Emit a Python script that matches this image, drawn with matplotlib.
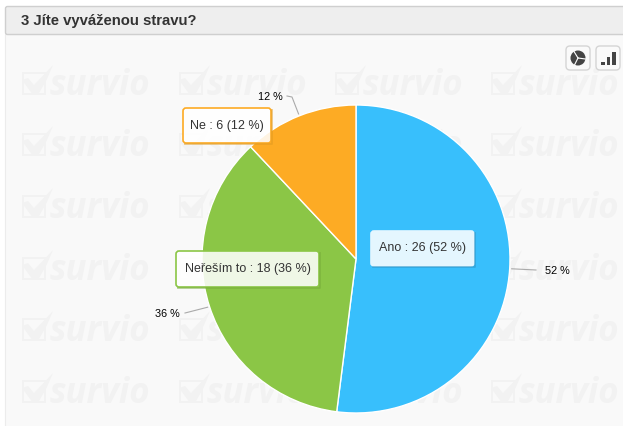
import numpy as np
import matplotlib
matplotlib.use('Agg')
import matplotlib.pyplot as plt
from matplotlib.patches import Rectangle, FancyBboxPatch, Circle, Polygon

W, H = 623, 426

# Data
title = '3 Jíte vyváženou stravu?'
categories = ['Ano', 'Neřeším to', 'Ne']
counts = [26, 18, 6]
percents = [52, 36, 12]
colors = ['#38bffc', '#8bc646', '#fdab24']
edges = ['#e6f6fe', '#8bc646', '#fdab24']
shadows = ['#2f93c4', '#76ab38', '#e09a20']

plt.rcParams['font.family'] = ['Liberation Sans', 'DejaVu Sans']

fig = plt.figure(figsize=(W / 100, H / 100), dpi=100, facecolor='white')

# fond en coordonnées pixel
bg = fig.add_axes([0, 0, 1, 1], zorder=0)
bg.set_xlim(0, W)
bg.set_ylim(H, 0)
bg.axis('off')

bg.add_patch(Rectangle((5, 34), W, H, fc='#f9f9f9', ec='#ececec', lw=0.8))
bg.add_patch(FancyBboxPatch((5.5, 6.5), W, 28, boxstyle='round,pad=0,rounding_size=2',
                            fc='#eeeeee', ec='#cfcfcf', lw=1))
bg.text(21, 21, title, fontsize=10.7, fontweight='bold', color='#333333', va='center')


# Filigrane
def watermark(x, y):
    mark = '#f2f2f2'
    bg.add_patch(Rectangle((x + 2, y + 8), 22, 21, fc='none', ec=mark, lw=1.4))
    bg.add_patch(Polygon([(x + 1, y + 15), (x + 7, y + 13), (x + 13, y + 20), (x + 32, y),
                          (x + 26, y + 14), (x + 17, y + 30), (x + 12, y + 30)],
                         fc=mark, ec='none'))
    bg.text(x + 29, y + 30, 'survio', fontsize=25, fontweight='bold', style='italic',
            family='Open Sans', color=mark, va='baseline')


for wy in [65, 126, 188, 250, 311, 373]:
    for wx in [21, 178, 334, 490]:
        watermark(wx, wy)

# Camembert
cx, cy, r = 356, 259, 154
ax = fig.add_axes([(cx - r) / W, 1 - (cy + r) / H, 2 * r / W, 2 * r / H], zorder=1)
wedges, _ = ax.pie(counts, colors=colors, startangle=90, counterclock=False,
                   radius=1, wedgeprops={'edgecolor': 'white', 'linewidth': 1})
ax.set_xlim(-1, 1)
ax.set_ylim(-1, 1)

# Calque du dessus pour les étiquettes
top = fig.add_axes([0, 0, 1, 1], zorder=2)
top.set_xlim(0, W)
top.set_ylim(H, 0)
top.axis('off')


def edge_point(wedge, radius):
    mid = np.deg2rad((wedge.theta1 + wedge.theta2) / 2)
    return cx + radius * np.cos(mid), cy - radius * np.sin(mid)


# Traits de rappel et pourcentages
leader_ends = [[(536, 270)], [(185, 313)], [(292, 97), (287, 96)]]
label_pos = [(545, 271), (155, 314), (258, 97)]
for w, p, pts, pos in zip(wedges, percents, leader_ends, label_pos):
    x0, y0 = edge_point(w, r + 2)
    xs = [x0] + [q[0] for q in pts]
    ys = [y0] + [q[1] for q in pts]
    top.plot(xs, ys, color='#aaaaaa', lw=0.8)
    top.text(pos[0], pos[1], f'{p} %', fontsize=7.8, color='black', va='center')

# Infobulles
boxes = [(371, 231, 103, 35), (176, 251, 143, 36), (183, 108, 88, 35)]
for name, n, p, edge, shade, (bx, by, bw, bh) in zip(categories, counts, percents, edges,
                                                     shadows, boxes):
    top.plot([bx + 2, bx + bw + 1.2, bx + bw + 1.2], [by + bh + 1.2, by + bh + 1.2, by + 2],
             color=shade, lw=1.3, alpha=0.55)
    top.add_patch(FancyBboxPatch((bx, by), bw, bh, boxstyle='round,pad=0,rounding_size=3',
                                 fc=(1, 1, 1, 0.87), ec=edge, lw=1.2))
    top.text(bx + bw / 2, by + bh / 2, f'{name} : {n} ({p} %)', fontsize=9, color='#333333',
             ha='center', va='center')

# Boutons
for bx in [566, 596]:
    top.add_patch(FancyBboxPatch((bx, 46), 24, 24, boxstyle='round,pad=0,rounding_size=4',
                                 fc='#fafafa', ec='#d5d5d5', lw=1))
top.add_patch(Circle((578, 58), 7.5, fc='#444444', ec='none'))
for tx, ty in [(585.5, 59), (574, 51.5), (574.5, 65)]:
    top.plot([578, tx], [58, ty], color='white', lw=0.8)
for bx, by in [(601, 62), (606.5, 57), (612, 52)]:
    top.add_patch(Rectangle((bx, by), 3.6, 65 - by, fc='#444444', ec='none'))

fig.savefig('out.png', dpi=100)
